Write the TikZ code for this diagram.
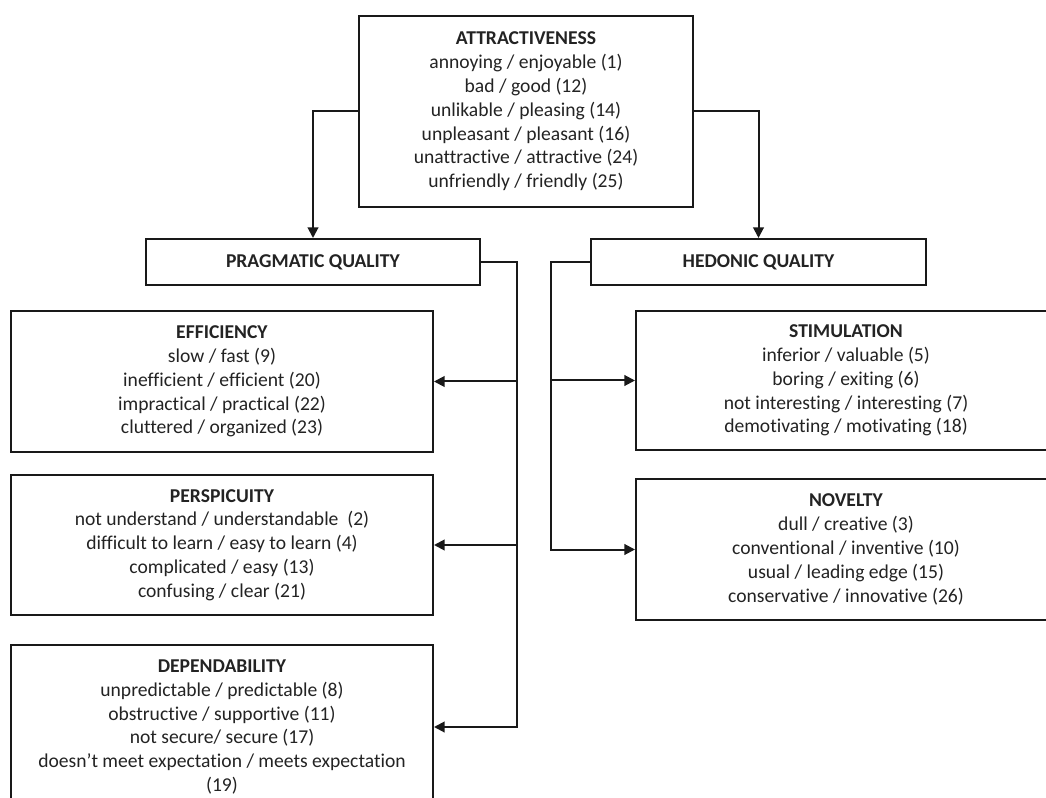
\documentclass[tikz,border=0pt]{standalone}
\usepackage{fontspec}
\setmainfont{Carlito}[Ligatures=CommonOff]
\usetikzlibrary{arrows.meta}
\definecolor{textc}{RGB}{35,35,35}
\tikzset{
  box/.style={draw=black!90, line width=1.5pt, rectangle, inner sep=0pt, align=center,
    text=textc, font=\fontsize{14.7}{17.85}\selectfont},
  conn/.style={draw=black!90, line width=1.5pt},
  arr/.style={conn, -{Triangle[length=8pt,width=8pt]}}
}
\begin{document}
\begin{tikzpicture}[x=0.75pt,y=-0.75pt]
\useasboundingbox (0,0) rectangle (1046,798);
\clip (0,0) rectangle (1046,798);
\fill[white] (0,0) rectangle (1046,798);
\node[box, minimum width=250.5pt, minimum height=143.25pt] (attr) at (526,111.5)
  {\textbf{ATTRACTIVENESS}\\annoying / enjoyable (1)\\bad / good (12)\\unlikable / pleasing (14)\\unpleasant / pleasant (16)\\unattractive / attractive (24)\\unfriendly / friendly (25)};
\node[box, minimum width=250.5pt, minimum height=34.5pt] (pq) at (313,262) {\textbf{PRAGMATIC QUALITY}};
\node[box, minimum width=251.25pt, minimum height=34.5pt] (hq) at (758.5,262) {\textbf{HEDONIC QUALITY}};
\node[box, minimum width=316.5pt, minimum height=105.75pt] (eff) at (222,381.5)
  {\textbf{EFFICIENCY}\\slow / fast (9)\\inefficient / efficient (20)\\impractical / practical (22)\\cluttered / organized (23)};
\node[box, minimum width=316.5pt, minimum height=105pt] (per) at (222,545)
  {\textbf{PERSPICUITY}\\not understand / understandable~ (2)\\difficult to learn / easy to learn (4)\\complicated / easy (13)\\confusing / clear (21)};
\node[box, minimum width=316.5pt, minimum height=123pt] (dep) at (222,727)
  {\textbf{DEPENDABILITY}\\unpredictable / predictable (8)\\obstructive / supportive (11)\\not secure/ secure (17)\\doesn’t meet expectation / meets expectation\\(19)};
\node[box, minimum width=315pt, minimum height=104.25pt] (stim) at (846,380.5)
  {\textbf{STIMULATION}\\inferior / valuable (5)\\boring / exiting (6)\\not interesting / interesting (7)\\demotivating / motivating (18)};
\node[box, minimum width=315pt, minimum height=105.75pt] (nov) at (846,549.5)
  {\textbf{NOVELTY}\\dull / creative (3)\\conventional / inventive (10)\\usual / leading edge (15)\\conservative / innovative (26)};
\draw[arr] (attr.west) -| (pq.north);
\draw[arr] (attr.east) -| (hq.north);
\coordinate (pbus) at (517,0);
\coordinate (hbus) at (551,0);
\draw[arr] (pq.east) -| (pbus |- dep.east) -- (dep.east);
\draw[arr] (pbus |- eff.east) -- (eff.east);
\draw[arr] (pbus |- per.east) -- (per.east);
\draw[arr] (hq.west) -| (hbus |- nov.west) -- (nov.west);
\draw[arr] (hbus |- stim.west) -- (stim.west);
\end{tikzpicture}
\end{document}
